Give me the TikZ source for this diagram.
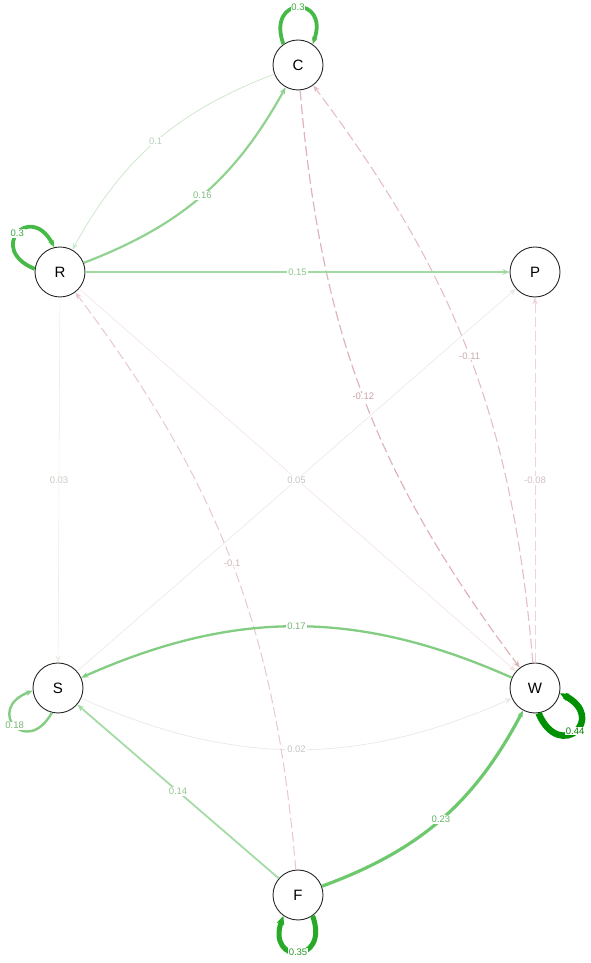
\documentclass[tikz,border=0pt]{standalone}
\usepackage{fontspec}
\setmainfont{Liberation Sans}
\usetikzlibrary{arrows.meta}
\definecolor{gA}{RGB}{0,145,0}
\definecolor{gB}{RGB}{40,170,40}
\definecolor{gC}{RGB}{70,185,70}
\definecolor{gD}{RGB}{110,200,110}
\definecolor{gE}{RGB}{130,205,130}
\definecolor{gF}{RGB}{145,210,145}
\definecolor{gG}{RGB}{160,218,160}
\definecolor{gH}{RGB}{165,220,165}
\definecolor{gI}{RGB}{205,232,205}
\definecolor{gJ}{RGB}{238,238,230}
\definecolor{gK}{RGB}{232,232,232}
\definecolor{nA}{RGB}{222,180,185}
\definecolor{nB}{RGB}{228,190,195}
\definecolor{nC}{RGB}{232,200,204}
\definecolor{nD}{RGB}{238,212,215}
\definecolor{nE}{RGB}{244,226,228}
\begin{document}
\begin{tikzpicture}[x=1pt,y=1pt,
  vtx/.style={circle,draw=black!85,line width=0.9pt,fill=white,minimum size=50pt,inner sep=0pt,font=\fontsize{15}{15}\selectfont},
  lbl/.style={fill=white,inner sep=0.8pt,font=\fontsize{9.5}{10}\selectfont},
  tip/.style={-{Stealth[length=7pt,width=5.5pt]}},
  bigtip/.style={-{Stealth[length=9pt,width=8pt]}},
  neg/.style={dash pattern=on 10pt off 4pt}]
\useasboundingbox (0,0) rectangle (590,963);
\node[vtx] (C) at (298,898) {C};
\node[vtx] (R) at (60,691) {R};
\node[vtx] (P) at (535,691) {P};
\node[vtx] (S) at (58,275) {S};
\node[vtx] (W) at (535,275) {W};
\node[vtx] (F) at (298,68) {F};
% faint edges first
\draw[tip,line width=0.6pt,draw=gJ] (R) -- node[lbl,text=gJ!85!black]{0.03} (S);
\draw[tip,line width=0.6pt,draw=nE] (R) -- (W);
\draw[tip,line width=0.6pt,draw=gK] (S) -- node[lbl,text=gK!85!black]{0.05} (P);
\draw[tip,line width=0.7pt,draw=gK] (S) to[bend right=24] node[lbl,text=gK!85!black]{0.02} (W);
\draw[tip,neg,line width=0.8pt,draw=nD] (W) -- node[lbl,text=nD!90!black]{-0.08} (P);
\draw[tip,neg,line width=1pt,draw=nC] (F) to[bend right=16] node[lbl,text=nC!90!black]{-0.1} (R);
\draw[tip,neg,line width=1.1pt,draw=nB] (W) to[bend right=16] node[lbl,text=nB!90!black]{-0.11} (C);
\draw[tip,neg,line width=1.2pt,draw=nA] (C) to[bend right=16] node[lbl,text=nA!90!black]{-0.12} (W);
\draw[tip,line width=0.8pt,draw=gI] (C) to[bend right=20] node[lbl,text=gI!90!black]{0.1} (R);
% green edges
\draw[tip,line width=1.8pt,draw=gH] (F) -- node[lbl,text=gH!90!black]{0.14} (S);
\draw[tip,line width=1.9pt,draw=gG] (R) -- node[lbl,text=gG!90!black]{0.15} (P);
\draw[tip,line width=2.2pt,draw=gF] (R) to[bend right=20] node[lbl,text=gF!90!black]{0.16} (C);
\draw[tip,line width=2.3pt,draw=gE] (W) to[bend right=24] node[lbl,text=gE!90!black]{0.17} (S);
\draw[tip,line width=3.2pt,draw=gD] (F) to[bend right=21] node[lbl,text=gD!90!black]{0.23} (W);
% loops
\draw[tip,line width=3.8pt,draw=gC] (C.125) .. controls +(110:52) and +(70:52) .. node[lbl,text=gC!90!black]{0.3} (C.55);
\draw[tip,line width=3.8pt,draw=gC] (R.173) .. controls +(158:52) and +(118:52) .. node[lbl,text=gC!90!black]{0.3} (R.103);
\draw[tip,line width=2.4pt,draw=gE] (S.256) .. controls +(241:52) and +(201:52) .. node[lbl,text=gE!90!black]{0.18} (S.186);
\draw[bigtip,line width=6.5pt,draw=gA] (W.278) .. controls +(293:54) and +(333:54) .. node[lbl,text=gA!90!black]{0.44} (W.348);
\draw[bigtip,line width=5pt,draw=gB] (F.305) .. controls +(290:52) and +(250:52) .. node[lbl,text=gB!90!black]{0.35} (F.235);
\end{tikzpicture}
\end{document}
